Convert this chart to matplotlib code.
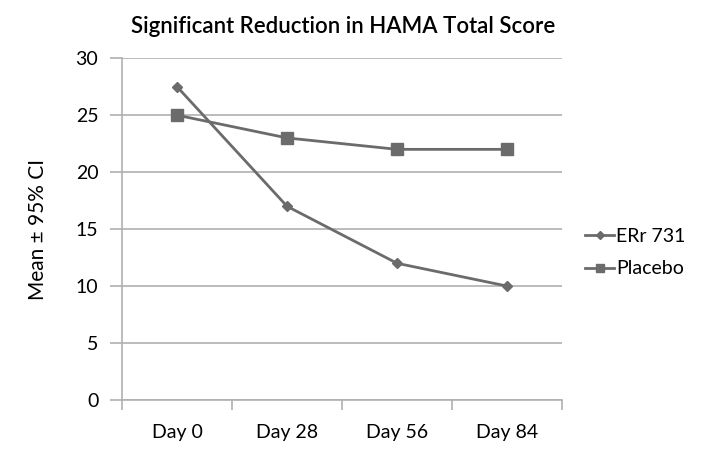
import matplotlib.pyplot as plt
import numpy as np

plt.rcParams["font.family"] = ["Lato", "DejaVu Sans"]

days = ["Day 0", "Day 28", "Day 56", "Day 84"]
err731 = [27.5, 17, 12, 10]
placebo = [25, 23, 22, 22]

line_col = "#6b6b6b"
grid_col = "#b0b0b0"

fig = plt.figure(figsize=(7.01, 4.51), dpi=100)
ax = fig.add_axes([0.174, 0.113, 0.628, 0.758])

x = np.arange(len(days))
ax.plot(x, err731, color=line_col, lw=2, marker="D", ms=5, label="ERr 731")
ax.plot(x, placebo, color=line_col, lw=2, marker="s", ms=8, label="Placebo")

ax.set_xlim(-0.5, len(days) - 0.5)
ax.set_ylim(0, 30)
ax.set_yticks(np.arange(0, 31, 5))
ax.yaxis.grid(True, color=grid_col, lw=1.2)
ax.set_axisbelow(True)

# tick marks between categories, labels at centres
ax.set_xticks(np.arange(-0.5, len(days), 1))
ax.set_xticklabels([])
ax.set_xticks(x, minor=True)
ax.set_xticklabels(days, minor=True, fontsize=14)
ax.tick_params(axis="x", which="major", length=7, color=grid_col, width=1.2)
ax.tick_params(axis="x", which="minor", length=0, pad=17)
ax.tick_params(axis="y", length=9, color=grid_col, width=1.2, labelsize=14, pad=8)

for s in ["top", "right"]:
    ax.spines[s].set_visible(False)
for s in ["left", "bottom"]:
    ax.spines[s].set_color(grid_col)
    ax.spines[s].set_linewidth(1.2)

ax.set_ylabel("Mean ± 95% CI", fontsize=15, labelpad=20)
fig.suptitle("Significant Reduction in HAMA Total Score", x=0.49, y=0.965,
             fontsize=16, fontweight="semibold")

fig.legend(loc="center left", bbox_to_anchor=(0.81, 0.44), frameon=False,
           fontsize=14, handlelength=1.5, handletextpad=0.1, labelspacing=0.8,
           markerscale=0.75)

fig.savefig("out.png", dpi=100)
